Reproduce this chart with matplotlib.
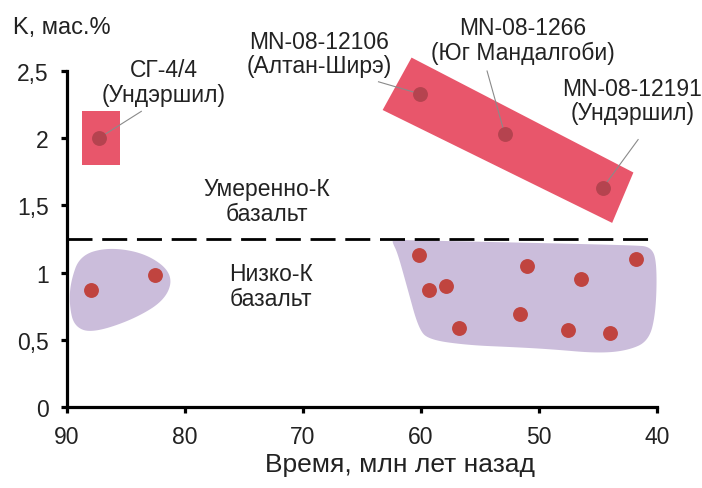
import numpy as np
import matplotlib.pyplot as plt
from matplotlib.patches import Polygon

plt.rcParams['font.family'] = ['Liberation Sans', 'DejaVu Sans']

# точки низко-К базальтов (возраст, млн лет; K, мас.%)
low_age = [88.0, 82.5, 60.2, 59.3, 57.9, 56.8, 51.0, 51.6, 47.5, 46.4, 44.0, 41.8]
low_k = [0.87, 0.98, 1.13, 0.87, 0.90, 0.59, 1.05, 0.69, 0.57, 0.95, 0.55, 1.10]

# умеренно-К образцы
mod_names = ["СГ-4/4\n(Ундэршил)", "MN-08-12106\n(Алтан-Ширэ)",
             "MN-08-1266\n(Юг Мандалгоби)", "MN-08-12191\n(Ундэршил)"]
mod_age = [87.3, 60.1, 52.9, 44.6]
mod_k = [2.00, 2.33, 2.03, 1.63]
label_age = [81.8, 68.6, 51.4, 42.1]
label_k = [2.42, 2.63, 2.73, 2.28]
leader_age = [83.7, 63.6, 54.4, 41.6]
leader_k = [2.20, 2.42, 2.50, 1.99]

# поля на диаграмме (контуры)
box_age = [88.7, 85.5, 85.5, 88.7]
box_k = [2.2, 2.2, 1.8, 1.8]
band_age = [60.8, 42.0, 43.8, 63.25]
band_k = [2.60, 1.745, 1.37, 2.21]
left_age = [89.7, 88.9, 86.4, 83.2, 81.0, 81.6, 84.4, 87.9, 89.4, 89.8]
left_k = [0.93, 1.13, 1.19, 1.14, 0.99, 0.80, 0.65, 0.55, 0.60, 0.76]
right_age = [62.4, 60.5, 42.0, 40.4, 40.0, 40.1, 40.7, 42.5, 45.0, 49.0, 52.0,
             56.0, 59.3, 60.2, 61.2, 62.0, 62.4]
right_k = [1.245, 1.24, 1.205, 1.19, 1.05, 0.70, 0.49, 0.42, 0.40, 0.43, 0.445,
           0.46, 0.50, 0.58, 0.90, 1.15, 1.22]

boundary = 1.25
xticks = [90, 80, 70, 60, 50, 40]
yticks = [0, 0.5, 1, 1.5, 2, 2.5]
ytick_labels = ["0", "0,5", "1", "1,5", "2", "2,5"]


def chaikin(xs, ys, n=4):
    pts = np.column_stack([xs, ys])
    for _ in range(n):
        nxt = np.roll(pts, -1, axis=0)
        q = 0.75 * pts + 0.25 * nxt
        r = 0.25 * pts + 0.75 * nxt
        pts = np.empty((2 * len(q), 2))
        pts[0::2] = q
        pts[1::2] = r
    return pts


fig = plt.figure(figsize=(7.02, 4.89), dpi=100)
ax = fig.add_axes([0.0954, 0.1656, 0.8405, 0.6871])

purple = '#CBBDDB'
red = '#E8566B'
txt = '#222222'

ax.add_patch(Polygon(chaikin(left_age, left_k), closed=True, fc=purple, ec='none'))
ax.add_patch(Polygon(chaikin(right_age, right_k), closed=True, fc=purple, ec='none'))
ax.add_patch(Polygon(np.column_stack([box_age, box_k]), closed=True, fc=red, ec='none'))
ax.add_patch(Polygon(np.column_stack([band_age, band_k]), closed=True, fc=red,
                     ec='none', clip_on=False))

ax.plot([90, 40], [boundary, boundary], color='black', lw=2.0, dashes=(9, 3.5))

ax.scatter(low_age, low_k, s=115, color='#C0443F', zorder=3, linewidths=0)
ax.scatter(mod_age, mod_k, s=115, color='#B5434F', zorder=3, linewidths=0, clip_on=False)

for i in range(len(mod_names)):
    ax.plot([mod_age[i], leader_age[i]], [mod_k[i], leader_k[i]], color='#8A8A8A',
            lw=0.8, zorder=2, clip_on=False)
    ax.text(label_age[i], label_k[i], mod_names[i], ha='center', va='center',
            fontsize=16.5, color=txt, linespacing=1.1)

ax.text(73.1, 1.53, "Умеренно-К\nбазальт", ha='center', va='center', fontsize=16.5,
        color=txt, linespacing=1.1)
ax.text(72.7, 0.90, "Низко-К\nбазальт", ha='center', va='center', fontsize=16.5,
        color=txt, linespacing=1.1)

ax.set_xlim(90, 40)
ax.set_ylim(0, 2.5)
ax.set_xticks(xticks)
ax.set_xticklabels([str(t) for t in xticks])
ax.set_yticks(yticks)
ax.set_yticklabels(ytick_labels)

for s in ['top', 'right']:
    ax.spines[s].set_visible(False)
for s in ['left', 'bottom']:
    ax.spines[s].set_linewidth(2.3)
ax.tick_params(axis='both', width=2.3, length=4, pad=9, labelsize=16.5, colors='black',
               labelcolor=txt)

ax.set_xlabel("Время, млн лет назад", fontsize=19, color=txt, va='center')
ax.xaxis.set_label_coords(0.564, -0.17)
ax.set_ylabel("K, мас.%", fontsize=17, color=txt, rotation=0, ha='left', va='center')
ax.yaxis.set_label_coords(-0.0915, 1.131)

fig.savefig("out.png", dpi=100)
